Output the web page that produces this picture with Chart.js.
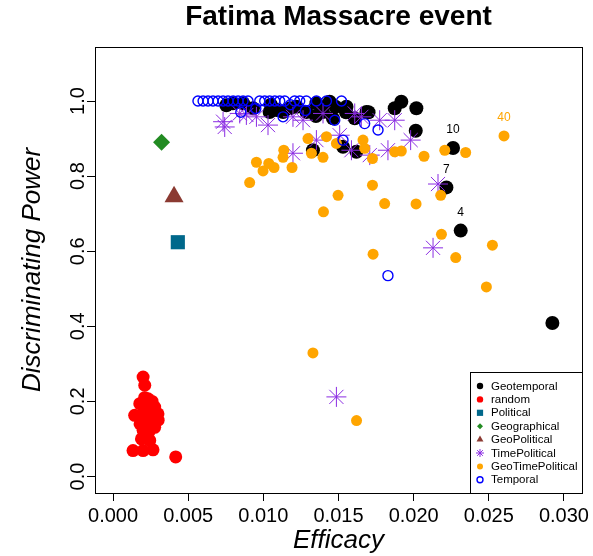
<!DOCTYPE html>
<html>
<head>
<meta charset="utf-8">
<script src="https://cdn.jsdelivr.net/npm/chart.js@4"></script>
<style>
  html, body { margin: 0; padding: 0; background: #fff; }
  #wrap { width: 593px; height: 556px; }
</style>
</head>
<body>
<div id="wrap"><canvas id="chart" width="593" height="556"></canvas></div>
<script>
// tick positions
const xTicks = [0, 0.005, 0.010, 0.015, 0.020, 0.025, 0.030];
const yTicks = [0, 0.2, 0.4, 0.6, 0.8, 1.0];

// [efficacy, discriminating power, optional label]
const geotemporal = [
  [0.00754, 0.989], [0.00798, 0.994], [0.00865, 0.994], [0.00931, 0.981], [0.0105, 0.990],
  [0.01042, 0.971], [0.01087, 0.976], [0.01131, 0.971], [0.01176, 0.981], [0.0122, 0.985],
  [0.01287, 0.971], [0.01353, 0.994], [0.0135, 0.960], [0.01397, 0.971], [0.01441, 0.998],
  [0.0148, 0.985], [0.01463, 0.954], [0.0133, 0.869], [0.01553, 0.985], [0.0155, 0.970],
  [0.01608, 0.954], [0.01686, 0.971], [0.0170, 0.970], [0.01874, 0.981], [0.01918, 0.998],
  [0.02018, 0.981], [0.02014, 0.921], [0.01619, 0.865], [0.0153, 0.878],
  [0.02262, 0.875, '10'], [0.02218, 0.770, '7'], [0.02313, 0.655, '4'], [0.02923, 0.409]
];
const random = [
  [0.00200, 0.265], [0.00211, 0.243], [0.00178, 0.194], [0.00233, 0.207], [0.00277, 0.185],
  [0.00299, 0.167], [0.00144, 0.163], [0.00200, 0.167], [0.00222, 0.149], [0.00277, 0.131],
  [0.00200, 0.123], [0.00189, 0.100], [0.00244, 0.096], [0.00133, 0.069], [0.00200, 0.069],
  [0.00266, 0.071], [0.00417, 0.052], [0.0022, 0.180], [0.0025, 0.160], [0.0018, 0.140],
  [0.0024, 0.120], [0.0021, 0.210], [0.0030, 0.150], [0.0026, 0.200]
];
const political = [[0.00431, 0.624]];
const geographical = [[0.00323, 0.890]];
const geoPolitical = [[0.00406, 0.745]];
const timePolitical = [
  [0.00732, 0.945], [0.00743, 0.931], [0.00843, 0.967], [0.00887, 0.963], [0.00954, 0.958],
  [0.01031, 0.936], [0.01197, 0.958], [0.01264, 0.949], [0.01197, 0.861], [0.01353, 0.896],
  [0.01397, 0.967], [0.01608, 0.967], [0.01652, 0.958], [0.01774, 0.949], [0.01874, 0.949],
  [0.01508, 0.909], [0.01586, 0.869], [0.01708, 0.856], [0.01829, 0.869], [0.0198, 0.896],
  [0.02162, 0.779], [0.02129, 0.609], [0.01486, 0.212]
];
const geoTimePolitical = [
  [0.01297, 0.900], [0.0142, 0.905], [0.01486, 0.887], [0.01136, 0.869], [0.01131, 0.850],
  [0.00954, 0.837], [0.01036, 0.834], [0.00998, 0.814], [0.01071, 0.823], [0.01191, 0.823],
  [0.0132, 0.861], [0.01397, 0.850], [0.00909, 0.783], [0.01497, 0.749], [0.0140, 0.705],
  [0.01663, 0.896], [0.01674, 0.874], [0.01874, 0.865], [0.01918, 0.867], [0.01726, 0.847],
  [0.02069, 0.853], [0.02207, 0.869], [0.02346, 0.863], [0.02601, 0.907, '40'], [0.01726, 0.776],
  [0.01807, 0.727], [0.02016, 0.726], [0.0218, 0.749], [0.02185, 0.645], [0.0173, 0.592],
  [0.02524, 0.616], [0.0228, 0.583], [0.02484, 0.505], [0.0133, 0.329], [0.0162, 0.149]
];
const temporal = [
  [0.00565, 1], [0.00599, 1], [0.00632, 1], [0.00665, 1], [0.00699, 1], [0.00732, 1],
  [0.00765, 1], [0.00799, 1], [0.00832, 1], [0.00865, 1], [0.00898, 1], [0.00976, 1],
  [0.01009, 1], [0.01042, 1], [0.01076, 1], [0.01109, 1], [0.01142, 1], [0.01208, 1],
  [0.01242, 1], [0.01286, 1], [0.01353, 1], [0.0142, 1], [0.0152, 1],
  [0.01131, 0.958], [0.01475, 0.949], [0.01674, 0.940], [0.01763, 0.923], [0.0153, 0.896],
  [0.01829, 0.535], [0.0095, 0.980], [0.0118, 0.990], [0.0128, 0.975], [0.0085, 0.970]
];

const TITLE = 'Fatima Massacre event';
const FONT = "'Liberation Sans', Arial, Helvetica, sans-serif";
Chart.defaults.font.family = FONT;
Chart.defaults.color = '#000';

function toPoints(arr) {
  return arr.map(p => ({ x: p[0], y: p[1], label: p[2] }));
}

// name, data, style; legend order follows this list
const series = [
  { label: 'Geotemporal', data: geotemporal, pointStyle: 'circle', color: '#000000', radius: 7, legendRadius: 3.2 },
  { label: 'random', data: random, pointStyle: 'circle', color: '#FF0000', radius: 6.5, legendRadius: 3.2 },
  { label: 'Political', data: political, pointStyle: 'rect', color: '#00688B', radius: 10, legendRadius: 4.4 },
  { label: 'Geographical', data: geographical, pointStyle: 'rectRot', color: '#228B22', radius: 8.5, legendRadius: 3 },
  { label: 'GeoPolitical', data: geoPolitical, pointStyle: 'triangle', color: '#8B3A32', radius: 11, legendRadius: 4 },
  { label: 'TimePolitical', data: timePolitical, pointStyle: 'star', color: '#8A2BE2', radius: 10, legendRadius: 4, line: 1 },
  { label: 'GeoTimePolitical', data: geoTimePolitical, pointStyle: 'circle', color: '#FFA500', radius: 5.5, legendRadius: 3 },
  { label: 'Temporal', data: temporal, pointStyle: 'circle', color: '#0000FF', radius: 5, legendRadius: 3, open: true, line: 1.4 }
];

const datasets = series.map((s, i) => ({
  label: s.label,
  data: toPoints(s.data),
  order: series.length - i,
  pointStyle: s.pointStyle,
  pointRadius: s.radius,
  backgroundColor: s.open ? 'rgba(0,0,0,0)' : s.color,
  borderColor: s.color,
  borderWidth: s.line || 0,
  labelColor: s.label === 'GeoTimePolitical' ? '#FFA500' : '#000'
}));

const plotDecor = {
  id: 'plotDecor',
  afterDatasetsDraw(chart) {
    const { ctx, chartArea: a } = chart;
    ctx.save();

    // box around plot region
    ctx.strokeStyle = '#000';
    ctx.lineWidth = 1;
    ctx.strokeRect(Math.round(a.left) + 0.5, Math.round(a.top) + 0.5,
      Math.round(a.right - a.left), Math.round(a.bottom - a.top));

    // title centred over the plot region
    ctx.fillStyle = '#000';
    ctx.font = 'bold 28px ' + FONT;
    ctx.textAlign = 'center';
    ctx.textBaseline = 'middle';
    ctx.fillText(TITLE, (a.left + a.right) / 2, 17);

    // point labels
    ctx.font = '12px ' + FONT;
    chart.data.datasets.forEach((ds, i) => {
      const meta = chart.getDatasetMeta(i);
      ds.data.forEach((p, j) => {
        if (!p.label) return;
        const el = meta.data[j];
        ctx.fillStyle = ds.labelColor;
        ctx.fillText(p.label, el.x, el.y - 18);
      });
    });

    // legend box, bottom right
    const w = 112, h = 121;
    const left = Math.round(a.right) - w, top = Math.round(a.bottom) - h;
    ctx.fillStyle = '#fff';
    ctx.fillRect(left, top, w, h);
    ctx.strokeStyle = '#000';
    ctx.lineWidth = 1;
    ctx.strokeRect(left + 0.5, top + 0.5, w, h);
    ctx.font = '11.5px ' + FONT;
    ctx.textAlign = 'left';
    series.forEach((s, k) => {
      const y = top + 14 + k * 13.4;
      ctx.save();
      ctx.fillStyle = s.open ? 'rgba(0,0,0,0)' : s.color;
      ctx.strokeStyle = s.color;
      ctx.lineWidth = s.line || 0;
      Chart.helpers.drawPoint(ctx, {
        pointStyle: s.pointStyle, radius: s.legendRadius, rotation: 0, borderWidth: s.line || 0
      }, left + 10, y);
      ctx.restore();
      ctx.fillStyle = '#000';
      ctx.fillText(s.label, left + 21, y + 0.5);
    });
    ctx.restore();
  }
};

new Chart(document.getElementById('chart'), {
  type: 'scatter',
  data: { datasets },
  plugins: [plotDecor],
  options: {
    responsive: false,
    animation: false,
    events: [],
    layout: { padding: { left: 0, right: 10, top: 47, bottom: 0 } },
    plugins: {
      legend: { display: false },
      tooltip: { enabled: false },
      title: { display: false }
    },
    scales: {
      x: {
        type: 'linear',
        min: -0.0012,
        max: 0.0312,
        afterBuildTicks: s => { s.ticks = xTicks.map(v => ({ value: v })); },
        afterFit: s => { s.height = 63; },
        ticks: {
          font: { size: 20 },
          color: '#000',
          padding: 3,
          autoSkip: false,
          maxRotation: 0,
          callback: v => v.toFixed(3)
        },
        grid: { drawOnChartArea: false, tickLength: 8, color: '#000' },
        border: { color: '#000' },
        title: {
          display: true,
          text: 'Efficacy',
          color: '#000',
          font: { size: 26, style: 'italic' },
          padding: { top: 0, bottom: 0 }
        }
      },
      y: {
        type: 'linear',
        min: -0.044,
        max: 1.144,
        afterBuildTicks: s => { s.ticks = yTicks.map(v => ({ value: v })); },
        afterFit: s => { s.width = 95; },
        ticks: {
          font: { size: 20 },
          color: '#000',
          minRotation: 90,
          maxRotation: 90,
          crossAlign: 'center',
          padding: -5,
          autoSkip: false,
          callback: v => v.toFixed(1)
        },
        grid: { drawOnChartArea: false, tickLength: 8, color: '#000' },
        border: { color: '#000' },
        title: {
          display: true,
          text: 'Discriminating Power',
          color: '#000',
          font: { size: 26, style: 'italic' },
          padding: { top: 17, bottom: 0 }
        }
      }
    }
  }
});
</script>
</body>
</html>
